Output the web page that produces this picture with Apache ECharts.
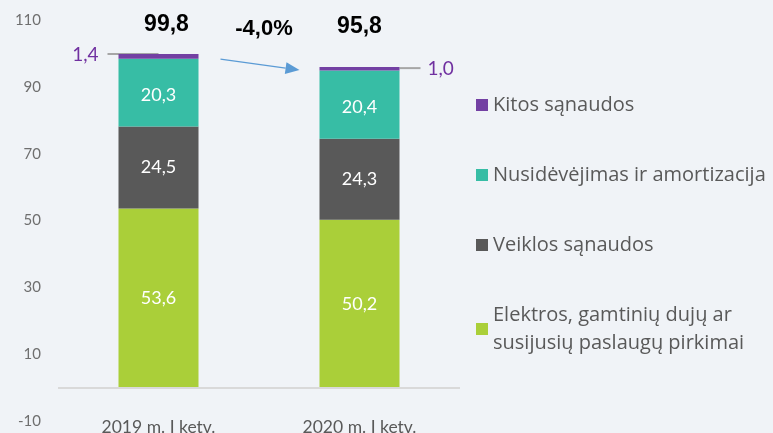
<!DOCTYPE html>
<html>
<head>
<meta charset="utf-8">
<script src="https://cdn.jsdelivr.net/npm/echarts@6/dist/echarts.min.js"></script>
<style>
html,body{margin:0;padding:0;background:#f0f3f7;}
#c{width:773px;height:433px;}
</style>
</head>
<body>
<div id="c"></div>
<script>
const categories = ['2019 m. I ketv.', '2020 m. I ketv.'];
const elektros = [53.6, 50.2];
const veiklos = [24.5, 24.3];
const nusidevejimas = [20.3, 20.4];
const kitos = [1.4, 1.0];
const totals = ['99,8', '95,8'];
const changeLabel = '-4,0%';
const yTicks = { min: -10, max: 110, interval: 20 };
const names = ['Elektros, gamtinių dujų ar\nsusijusių paslaugų pirkimai', 'Veiklos sąnaudos', 'Nusidėvėjimas ir amortizacija', 'Kitos sąnaudos'];

const FONT = 'Lato';
const fmtNum = p => p.value.toFixed(1).replace('.', ',');

const chart = echarts.init(document.getElementById('c'), null, {renderer: 'canvas'});
const insideLabel = {show: true, position: 'inside', color: '#ffffff', fontSize: 18, fontFamily: FONT, formatter: fmtNum};

const option = {
  backgroundColor: '#f0f3f7',
  animation: false,
  grid: {left: 58, right: 313, top: 20, bottom: 12, containLabel: false, outerBoundsMode: 'none'},
  legend: {
    orient: 'vertical', left: 471, top: 86, itemWidth: 12, itemHeight: 12, itemGap: 42,
    icon: 'rect',
    data: [names[3], names[2], names[1], names[0]],
    textStyle: {fontSize: 20, color: '#595959', fontFamily: 'Open Sans', lineHeight: 28},
    selectedMode: false
  },
  xAxis: {
    type: 'category', data: categories,
    axisLine: {show: false}, axisTick: {show: false},
    axisLabel: {color: '#595959', fontSize: 17.5, fontFamily: FONT, margin: -3}
  },
  yAxis: {
    type: 'value', min: yTicks.min, max: yTicks.max, interval: yTicks.interval,
    splitLine: {show: false}, axisLine: {show: false}, axisTick: {show: false},
    axisLabel: {color: '#6f6f6f', fontSize: 15, fontFamily: FONT, margin: 17}
  },
  series: [
    {name: names[0], type: 'bar', stack: 't', barWidth: 80, data: elektros,
     itemStyle: {color: '#aacf39'}, label: insideLabel,
     markLine: {silent: true, symbol: 'none', label: {show: false},
       lineStyle: {color: '#d9d9d9', width: 2, type: 'solid'}, data: [{yAxis: 0}]}},
    {name: names[1], type: 'bar', stack: 't', barWidth: 80, data: veiklos,
     itemStyle: {color: '#595959'}, label: insideLabel},
    {name: names[2], type: 'bar', stack: 't', barWidth: 80, data: nusidevejimas,
     itemStyle: {color: '#37bda5'}, label: Object.assign({}, insideLabel, {offset: [0, 3]})},
    {name: names[3], type: 'bar', stack: 't', barWidth: 80,
     data: [
       {value: kitos[0], label: {show: true, position: 'left', distance: 20, offset: [0, -2]}},
       {value: kitos[1], label: {show: true, position: 'right', distance: 28, offset: [0, 0]}}
     ],
     itemStyle: {color: '#7340a3'},
     label: {color: '#7030a0', fontSize: 19, fontFamily: FONT, formatter: fmtNum}}
  ]
};
chart.setOption(option);

const sum = i => elektros[i] + veiklos[i] + nusidevejimas[i] + kitos[i];
const p1 = chart.convertToPixel({gridIndex: 0}, [0, sum(0)]);
const p2 = chart.convertToPixel({gridIndex: 0}, [1, sum(1)]);
const t1 = chart.convertToPixel({gridIndex: 0}, [0, 109]);
const t2 = chart.convertToPixel({gridIndex: 0}, [1, 109]);

const aStart = [p1[0] + 62, p1[1] + 5];
const aEnd = [p2[0] - 60, p2[1] + 3];
const ang = Math.atan2(aEnd[1] - aStart[1], aEnd[0] - aStart[0]);
const hl = 14, hw = 6;
const base = [aEnd[0] - hl * Math.cos(ang), aEnd[1] - hl * Math.sin(ang)];
const head = [aEnd,
  [base[0] + hw * Math.sin(ang), base[1] - hw * Math.cos(ang)],
  [base[0] - hw * Math.sin(ang), base[1] + hw * Math.cos(ang)]];

const totalStyle = {fontSize: 23, fontWeight: 'bold', fill: '#000000', fontFamily: 'Liberation Sans', align: 'center', verticalAlign: 'middle'};
chart.setOption({
  graphic: [
    {type: 'text', x: t1[0] + 8, y: t1[1] + 1, style: Object.assign({text: totals[0]}, totalStyle)},
    {type: 'text', x: t2[0], y: t2[1] + 3, style: Object.assign({text: totals[1]}, totalStyle)},
    {type: 'text', x: (t1[0] + t2[0]) / 2 + 5, y: t1[1] + 6, style: Object.assign({text: changeLabel}, totalStyle, {fontSize: 22})},
    {type: 'line', shape: {x1: aStart[0], y1: aStart[1], x2: base[0], y2: base[1]}, style: {stroke: '#5b9bd5', lineWidth: 1.2}},
    {type: 'polygon', shape: {points: head}, style: {fill: '#5b9bd5'}},
    {type: 'line', z: -1, shape: {x1: p1[0] - 51, y1: p1[1], x2: p1[0], y2: p1[1]}, style: {stroke: '#a6a6a6', lineWidth: 2}},
    {type: 'line', shape: {x1: p2[0] + 40, y1: p2[1] + 1, x2: p2[0] + 61, y2: p2[1] + 1}, style: {stroke: '#a6a6a6', lineWidth: 2}}
  ]
});
</script>
</body>
</html>
